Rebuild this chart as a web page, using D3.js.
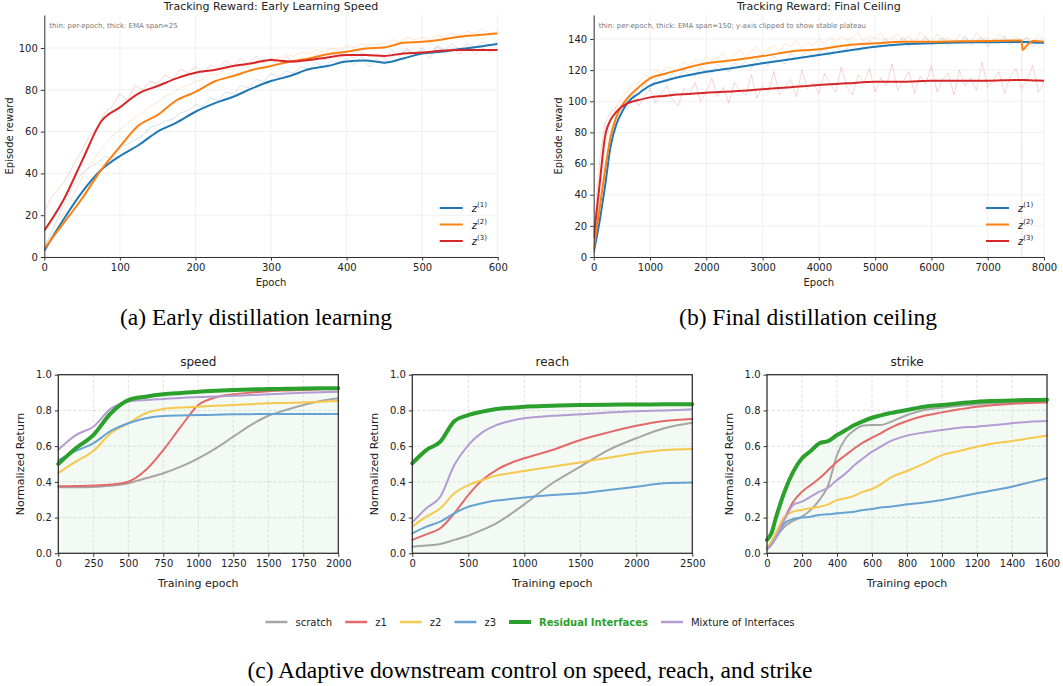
<!DOCTYPE html>
<html>
<head>
<meta charset="utf-8">
<script src="https://cdn.jsdelivr.net/npm/d3@7"></script>
<style>
  body { margin: 0; background: #fff; }
  svg text { font-family: "DejaVu Sans", sans-serif; fill: #222; }
  svg text.cap { font-family: "Liberation Serif", "Times New Roman", serif; fill: #000; }
</style>
</head>
<body>
<svg id="fig" width="1063" height="686"></svg>
<script>
// ---- (a) early learning: EMA curves, read every 25 epochs
var earlyEpochs = [0,25,50,75,100,125,150,175,200,225,250,275,300,325,350,375,400,425,450,475,500,525,550,575,600];
var earlyZ1 = [3,17.7,31,41.6,48.3,53.6,60,64.3,69.5,73.5,76.7,80.7,84.2,86.6,89.8,91.4,93.5,94,93,95,97.4,98.2,99.5,100.6,101.9];
var earlyZ2 = [4,16,28,41.6,52.8,63,68,75,79,84,86.6,89.5,91.4,93.5,95,97,98.2,99.8,100.3,102.5,103,104,105.4,106.2,107];
var earlyZ3 = [12.6,27,46,64.7,71.6,78.3,81.8,85.5,88.2,89.5,91.4,92.7,94.3,93.5,94.3,95.5,96.6,96.6,96.2,97.4,97.8,98.7,99,99,99];
// per-epoch (thin) values, every 10 epochs
var earlyRawZ1 = [5,12,20,28,35,40,43,45,48,47,52,54,56,58,62,63,65,66,69,70,73,72,76,75,79,78,82,81,85,84,88,86,89,88,91,90,93,91,94,93,95,92,96,91,95,92,96,97,99,97,100,97,101,99,102,99,102,100,103,101,103];
var earlyRawZ2 = [6,10,17,24,31,38,44,49,54,58,61,64,67,69,72,74,77,78,81,82,84,85,88,87,90,89,92,91,94,93,95,95,97,96,98,97,99,98,100,99,101,100,102,101,102,102,104,103,105,104,105,104,106,105,107,106,108,107,109,107,108];
var earlyRawZ3 = [22,29,33,38,45,51,58,62,69,72,78,75,82,80,84,83,87,85,90,88,91,88,92,90,94,91,95,92,96,93,95,92,96,93,95,94,97,94,98,95,97,95,98,96,97,95,99,96,100,96,99,95,101,97,100,97,101,97,100,98,99];

// ---- (b) final ceiling: EMA curves
var finalEpochs = [0,100,200,300,400,500,600,800,1000,1250,1500,2000,2500,3000,3500,4000,4500,5000,5500,6000,6500,7000,7500,7600,7620,7700,7800,8000];
var finalZ1 = [3,22,45,71,85,93,99,105,110,113,115.4,119,121.6,124.4,127,129.7,132.5,135,136.6,137.2,137.7,137.9,138,138,138,138,137.8,137.6];
var finalZ2 = [5,30,55,77,89.7,97,102,109,114.7,117.5,120,124.4,126.5,129,132,133.4,136,137.2,138.3,138.3,138.5,138.7,139,139,133,136,138.7,138.3];
var finalZ3 = [12,45,77,88,93,96.5,98.7,100.8,102.5,103.4,104.3,105.5,106.4,107.7,109,110.5,111.5,112.6,112.6,113.2,113.2,113.2,113.7,113.7,113.7,113.5,113.4,113.2];
// per-epoch (thin) values, every 100 epochs
var finalRawZ1 = [3,28,58,80,91,97,100,106,104,111,108,114,116,112,118,115,120,117,116,122,119,118,124,121,119,125,122,126,121,127,125,123,129,126,124,131,127,129,133,128,131,134,129,135,132,134,137,132,136,139,134,137,140,135,138,141,135,139,137,142,136,138,141,135,139,137,142,136,139,141,135,140,137,142,136,139,138,141,135,139,137];
var finalRawZ2 = [5,38,70,87,97,102,107,110,112,117,115,120,118,122,121,119,125,123,127,124,129,126,128,131,126,130,133,128,132,135,130,134,136,132,137,135,139,134,138,136,140,137,141,138,142,139,141,144,138,142,140,144,137,141,143,139,142,137,144,140,138,143,139,141,137,143,140,138,144,139,141,137,143,140,138,142,139,141,137,143,139];
var finalRawZ3 = [14,60,86,93,96,98,95,104,97,103,108,99,105,110,101,97,108,104,112,100,106,115,103,109,99,112,107,104,117,102,110,106,119,104,109,114,103,120,108,112,105,118,111,106,122,109,104,117,112,121,106,115,110,124,107,113,119,105,116,111,123,106,114,118,104,120,110,115,107,125,109,113,119,105,116,121,108,114,123,106,112];
// one collapsed episode of z(2) near epoch 7600
var spikeEpochs = [7603, 7605, 7607];
var spikeZ2 = [139, -40, 138];

// ---- (c) downstream tasks
var speedEpochs = [0,125,250,375,500,625,750,875,1000,1125,1250,1375,1500,1625,1750,1875,2000];
var speedScratch = [0.37,0.37,0.371,0.378,0.392,0.42,0.448,0.485,0.532,0.588,0.653,0.718,0.77,0.802,0.83,0.853,0.868];
var speedZ1 = [0.375,0.377,0.379,0.385,0.401,0.466,0.578,0.709,0.83,0.873,0.89,0.9,0.908,0.912,0.915,0.918,0.92];
var speedZ2 = [0.45,0.513,0.573,0.672,0.728,0.784,0.808,0.816,0.821,0.826,0.83,0.835,0.84,0.842,0.845,0.849,0.853];
var speedZ3 = [0.52,0.573,0.616,0.685,0.728,0.756,0.769,0.772,0.774,0.776,0.778,0.779,0.78,0.78,0.78,0.78,0.78];
var speedResidual = [0.50,0.588,0.662,0.784,0.858,0.877,0.89,0.898,0.905,0.91,0.914,0.917,0.92,0.921,0.923,0.924,0.924];
var speedMixture = [0.58,0.662,0.709,0.81,0.849,0.858,0.864,0.87,0.875,0.878,0.882,0.886,0.89,0.895,0.899,0.902,0.905];

var reachEpochs = [0,125,250,375,500,625,750,875,1000,1250,1500,1750,2000,2250,2500];
var reachScratch = [0.037,0.043,0.052,0.075,0.099,0.131,0.168,0.218,0.274,0.392,0.485,0.578,0.644,0.7,0.731];
var reachZ1 = [0.075,0.106,0.14,0.224,0.326,0.41,0.466,0.504,0.532,0.578,0.634,0.677,0.714,0.741,0.752];
var reachZ2 = [0.149,0.205,0.252,0.336,0.382,0.41,0.435,0.448,0.461,0.485,0.509,0.535,0.56,0.578,0.584];
var reachZ3 = [0.112,0.149,0.177,0.224,0.261,0.28,0.295,0.304,0.312,0.326,0.336,0.354,0.373,0.392,0.397];
var reachResidual = [0.504,0.578,0.625,0.74,0.774,0.793,0.808,0.815,0.821,0.826,0.83,0.832,0.833,0.834,0.835];
var reachMixture = [0.173,0.252,0.317,0.494,0.606,0.677,0.718,0.741,0.756,0.77,0.778,0.788,0.795,0.8,0.806];

var strikeEpochs = [0,25,50,100,150,200,250,300,350,400,450,500,550,600,650,700,800,900,1000,1100,1200,1300,1400,1500,1600];
var strikeScratch = [0.024,0.05,0.088,0.149,0.181,0.205,0.243,0.299,0.382,0.55,0.644,0.69,0.715,0.718,0.718,0.733,0.774,0.802,0.815,0.826,0.834,0.84,0.845,0.849,0.849];
var strikeZ1 = [0.024,0.05,0.093,0.196,0.289,0.345,0.382,0.42,0.466,0.513,0.55,0.588,0.621,0.647,0.672,0.7,0.741,0.77,0.789,0.806,0.821,0.83,0.838,0.841,0.845];
var strikeZ2 = [0.037,0.065,0.112,0.205,0.233,0.243,0.252,0.261,0.274,0.299,0.308,0.323,0.345,0.36,0.386,0.42,0.461,0.504,0.55,0.573,0.597,0.616,0.629,0.644,0.659];
var strikeZ3 = [0.024,0.047,0.084,0.168,0.192,0.2,0.205,0.215,0.218,0.224,0.229,0.233,0.243,0.248,0.256,0.261,0.274,0.285,0.299,0.317,0.336,0.354,0.373,0.397,0.42];
var strikeResidual = [0.075,0.112,0.196,0.345,0.457,0.532,0.573,0.616,0.629,0.662,0.69,0.718,0.74,0.759,0.772,0.784,0.802,0.821,0.83,0.84,0.849,0.853,0.856,0.858,0.86];
var strikeMixture = [0.024,0.047,0.088,0.187,0.271,0.289,0.317,0.345,0.368,0.41,0.448,0.494,0.532,0.569,0.597,0.625,0.659,0.677,0.69,0.703,0.709,0.718,0.728,0.737,0.741];

var methodNames = ["scratch", "z1", "z2", "z3", "Residual Interfaces", "Mixture of Interfaces"];
var methodColors = ["#a6a6a6", "#e36a6a", "#f6c84c", "#67a3d2", "#2ca02c", "#b39bd3"];
var zColors = ["#1f77b4", "#ff7f0e", "#d62728"];

var svg = d3.select("#fig");
svg.append("rect").attr("width", 1063).attr("height", 686).attr("fill", "#fff");
var defs = svg.append("defs");
var clipId = 0;

function addClip(x0, y0, w, h) {
  clipId++;
  defs.append("clipPath").attr("id", "clip" + clipId)
    .append("rect").attr("x", x0).attr("y", y0).attr("width", w).attr("height", h);
  return "url(#clip" + clipId + ")";
}

function drawTracking(cfg) {
  var x = d3.scaleLinear().domain(cfg.xDomain).range([cfg.left, cfg.right]);
  var y = d3.scaleLinear().domain(cfg.yDomain).range([cfg.bottom, cfg.top]);
  var g = svg.append("g");

  // light grid
  g.append("g").selectAll("line").data(cfg.xTicks).enter().append("line")
    .attr("x1", function(d) { return x(d); }).attr("x2", function(d) { return x(d); })
    .attr("y1", cfg.top).attr("y2", cfg.bottom)
    .attr("stroke", "#ececec").attr("stroke-width", 0.8);
  g.append("g").selectAll("line").data(cfg.yTicks).enter().append("line")
    .attr("x1", cfg.left).attr("x2", cfg.right)
    .attr("y1", function(d) { return y(d); }).attr("y2", function(d) { return y(d); })
    .attr("stroke", "#ececec").attr("stroke-width", 0.8);

  var clip = addClip(cfg.left, cfg.top, cfg.right - cfg.left, cfg.bottom - cfg.top);
  var plot = g.append("g").attr("clip-path", clip);

  var rawLine = d3.line()
    .x(function(d) { return x(d[0]); })
    .y(function(d) { return y(d[1]); });
  var emaLine = d3.line().curve(d3.curveMonotoneX)
    .x(function(d) { return x(d[0]); })
    .y(function(d) { return y(d[1]); });

  cfg.raw.forEach(function(vals, i) {
    var pts = vals.map(function(v, j) { return [cfg.rawEpochs[j], v]; });
    plot.append("path").datum(pts).attr("d", rawLine)
      .attr("fill", "none").attr("stroke", zColors[i])
      .attr("stroke-width", 0.9).attr("stroke-opacity", 0.22);
  });
  if (cfg.spike) {
    var sp = cfg.spike.epochs.map(function(e, j) { return [e, cfg.spike.values[j]]; });
    plot.append("path").datum(sp).attr("d", rawLine)
      .attr("fill", "none").attr("stroke", zColors[1])
      .attr("stroke-width", 0.7).attr("stroke-opacity", 0.18);
  }
  cfg.ema.forEach(function(vals, i) {
    var pts = vals.map(function(v, j) { return [cfg.emaEpochs[j], v]; });
    plot.append("path").datum(pts).attr("d", emaLine)
      .attr("fill", "none").attr("stroke", zColors[i])
      .attr("stroke-width", 2);
  });

  var xAxis = g.append("g")
    .attr("transform", "translate(0," + cfg.bottom + ")")
    .call(d3.axisBottom(x).tickValues(cfg.xTicks).tickSize(3.5).tickSizeOuter(0).tickFormat(d3.format("d")));
  var yAxis = g.append("g")
    .attr("transform", "translate(" + cfg.left + ",0)")
    .call(d3.axisLeft(y).tickValues(cfg.yTicks).tickSize(3.5).tickSizeOuter(0).tickFormat(d3.format("d")));
  [xAxis, yAxis].forEach(function(a) {
    a.select(".domain").attr("stroke", "#333").attr("stroke-width", 1);
    a.selectAll(".tick line").attr("stroke", "#333");
    a.selectAll(".tick text").attr("font-size", 10).attr("fill", "#222")
      .style("font-family", "DejaVu Sans, sans-serif");
  });

  g.append("text").attr("x", (cfg.left + cfg.right) / 2).attr("y", 10)
    .attr("text-anchor", "middle").attr("font-size", 11).text(cfg.title);
  g.append("text").attr("x", cfg.left + 5).attr("y", 28)
    .attr("font-size", 7).style("fill", "#777").text(cfg.note);
  g.append("text").attr("x", (cfg.left + cfg.right) / 2).attr("y", 285.5)
    .attr("text-anchor", "middle").attr("font-size", 10).text("Epoch");
  g.append("text").attr("transform", "translate(" + cfg.yLabelX + "," + ((cfg.top + cfg.bottom) / 2) + ") rotate(-90)")
    .attr("text-anchor", "middle").attr("font-size", 10).text("Episode reward");

  // legend
  var lg = g.append("g").attr("transform", "translate(" + (cfg.right - 58) + ",208)");
  zColors.forEach(function(c, i) {
    var row = lg.append("g").attr("transform", "translate(0," + (i * 16.5) + ")");
    row.append("line").attr("x1", 0).attr("x2", 23).attr("stroke", c).attr("stroke-width", 2);
    var t = row.append("text").attr("x", 32).attr("y", 4).attr("font-size", 10);
    t.append("tspan").style("font-style", "italic").text("z");
    t.append("tspan").attr("dy", -5).attr("font-size", 7).text("(" + (i + 1) + ")");
  });
}

drawTracking({
  left: 44.3, right: 497.7, top: 15, bottom: 257,
  xDomain: [0, 600], yDomain: [0, 115.8],
  xTicks: [0, 100, 200, 300, 400, 500, 600], yTicks: [0, 20, 40, 60, 80, 100],
  emaEpochs: earlyEpochs, ema: [earlyZ1, earlyZ2, earlyZ3],
  rawEpochs: d3.range(0, 601, 10), raw: [earlyRawZ1, earlyRawZ2, earlyRawZ3],
  title: "Tracking Reward: Early Learning Speed",
  note: "thin: per-epoch, thick: EMA span=25",
  yLabelX: 13
});

drawTracking({
  left: 593.7, right: 1044, top: 15, bottom: 257,
  xDomain: [0, 8000], yDomain: [0, 155.4],
  xTicks: [0, 1000, 2000, 3000, 4000, 5000, 6000, 7000, 8000], yTicks: [0, 20, 40, 60, 80, 100, 120, 140],
  emaEpochs: finalEpochs, ema: [finalZ1, finalZ2, finalZ3],
  rawEpochs: d3.range(0, 8001, 100), raw: [finalRawZ1, finalRawZ2, finalRawZ3],
  spike: { epochs: spikeEpochs, values: spikeZ2 },
  title: "Tracking Reward: Final Ceiling",
  note: "thin: per-epoch, thick: EMA span=150; y-axis clipped to show stable plateau",
  yLabelX: 562
});

function drawTask(cfg) {
  var top = 374.7, bottom = 553.3;
  var x = d3.scaleLinear().domain([0, cfg.xMax]).range([cfg.left, cfg.right]);
  var y = d3.scaleLinear().domain([0, 1]).range([bottom, top]);
  var yTicks = [0, 0.2, 0.4, 0.6, 0.8, 1.0];
  var g = svg.append("g");

  var line = d3.line().curve(d3.curveMonotoneX)
    .x(function(d) { return x(d[0]); })
    .y(function(d) { return y(d[1]); });
  var area = d3.area().curve(d3.curveMonotoneX)
    .x(function(d) { return x(d[0]); })
    .y0(y(0))
    .y1(function(d) { return y(d[1]); });

  var series = cfg.series.map(function(vals) {
    return vals.map(function(v, j) { return [cfg.epochs[j], v]; });
  });

  // shade under Residual Interfaces
  g.append("path").datum(series[4]).attr("d", area)
    .attr("fill", "#2ca02c").attr("fill-opacity", 0.055);

  g.append("g").selectAll("line").data(cfg.xTicks.slice(1, -1)).enter().append("line")
    .attr("x1", function(d) { return x(d); }).attr("x2", function(d) { return x(d); })
    .attr("y1", top).attr("y2", bottom)
    .attr("stroke", "#c8c8c8").attr("stroke-width", 0.6).attr("stroke-dasharray", "3,2");
  g.append("g").selectAll("line").data(yTicks.slice(1, -1)).enter().append("line")
    .attr("x1", cfg.left).attr("x2", cfg.right)
    .attr("y1", function(d) { return y(d); }).attr("y2", function(d) { return y(d); })
    .attr("stroke", "#c8c8c8").attr("stroke-width", 0.6).attr("stroke-dasharray", "3,2");

  var order = [0, 1, 2, 3, 5, 4];
  order.forEach(function(i) {
    g.append("path").datum(series[i]).attr("d", line)
      .attr("fill", "none").attr("stroke", methodColors[i])
      .attr("stroke-width", i === 4 ? 4 : 2)
      .attr("stroke-linecap", "round");
  });

  g.append("rect").attr("x", cfg.left).attr("y", top)
    .attr("width", cfg.right - cfg.left).attr("height", bottom - top)
    .attr("fill", "none").attr("stroke", "#333").attr("stroke-width", 1.3);

  var xAxis = g.append("g").attr("transform", "translate(0," + bottom + ")")
    .call(d3.axisBottom(x).tickValues(cfg.xTicks).tickSize(3.5).tickFormat(d3.format("d")));
  var yAxis = g.append("g").attr("transform", "translate(" + cfg.left + ",0)")
    .call(d3.axisLeft(y).tickValues(yTicks).tickSize(3.5).tickFormat(d3.format(".1f")));
  [xAxis, yAxis].forEach(function(a) {
    a.select(".domain").remove();
    a.selectAll(".tick line").attr("stroke", "#333");
    a.selectAll(".tick text").attr("font-size", 10).attr("fill", "#222")
      .style("font-family", "DejaVu Sans, sans-serif");
  });

  g.append("text").attr("x", (cfg.left + cfg.right) / 2).attr("y", 366)
    .attr("text-anchor", "middle").attr("font-size", 12).text(cfg.title);
  g.append("text").attr("x", (cfg.left + cfg.right) / 2).attr("y", 587)
    .attr("text-anchor", "middle").attr("font-size", 11).text("Training epoch");
  g.append("text").attr("transform", "translate(" + (cfg.left - 34) + "," + ((top + bottom) / 2) + ") rotate(-90)")
    .attr("text-anchor", "middle").attr("font-size", 11).text("Normalized Return");
}

drawTask({
  title: "speed", left: 58.3, right: 338.3, xMax: 2000,
  xTicks: [0, 250, 500, 750, 1000, 1250, 1500, 1750, 2000],
  epochs: speedEpochs,
  series: [speedScratch, speedZ1, speedZ2, speedZ3, speedResidual, speedMixture]
});
drawTask({
  title: "reach", left: 412.3, right: 692.3, xMax: 2500,
  xTicks: [0, 500, 1000, 1500, 2000, 2500],
  epochs: reachEpochs,
  series: [reachScratch, reachZ1, reachZ2, reachZ3, reachResidual, reachMixture]
});
drawTask({
  title: "strike", left: 767, right: 1047, xMax: 1600,
  xTicks: [0, 200, 400, 600, 800, 1000, 1200, 1400, 1600],
  epochs: strikeEpochs,
  series: [strikeScratch, strikeZ1, strikeZ2, strikeZ3, strikeResidual, strikeMixture]
});

// shared legend for (c)
var legend = svg.append("g");
var cursor = 0;
methodNames.forEach(function(name, i) {
  var item = legend.append("g").attr("transform", "translate(" + cursor + ",0)");
  item.append("line").attr("x1", 0).attr("x2", 22).attr("y1", 0).attr("y2", 0)
    .attr("stroke", methodColors[i]).attr("stroke-width", i === 4 ? 4 : 2.5);
  var t = item.append("text").attr("x", 30).attr("y", 3.5).attr("font-size", 10).text(name);
  if (i === 4) t.attr("font-weight", "bold").style("fill", "#2ca02c");
  cursor += 30 + t.node().getComputedTextLength() + 13;
});
cursor -= 13;
legend.attr("transform", "translate(" + (530 - cursor / 2) + ",622)");

// sub-figure captions
svg.append("text").attr("class", "cap").attr("x", 256).attr("y", 325)
  .attr("text-anchor", "middle").attr("font-size", 23.5).text("(a) Early distillation learning");
svg.append("text").attr("class", "cap").attr("x", 808).attr("y", 325)
  .attr("text-anchor", "middle").attr("font-size", 23.5).text("(b) Final distillation ceiling");
svg.append("text").attr("class", "cap").attr("x", 530).attr("y", 678)
  .attr("text-anchor", "middle").attr("font-size", 23.5).text("(c) Adaptive downstream control on speed, reach, and strike");
</script>
</body>
</html>
